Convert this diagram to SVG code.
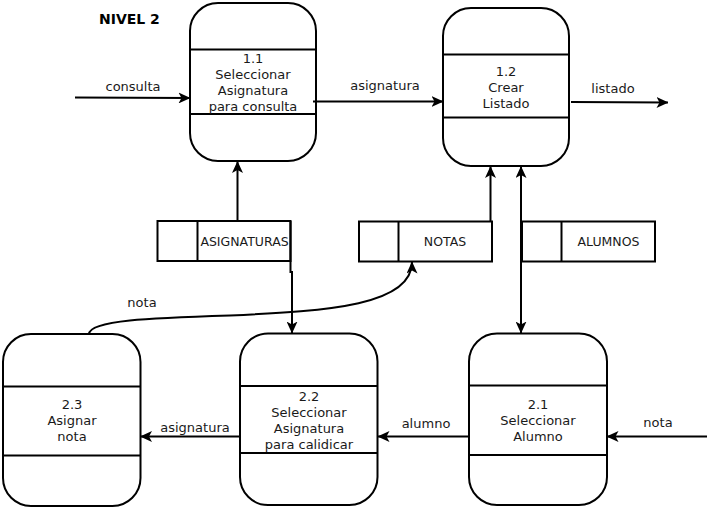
<svg xmlns="http://www.w3.org/2000/svg" width="709" height="510" viewBox="0 0 709 510">
  <style>
    .shape { fill: #ffffff; stroke: #000000; stroke-width: 2; }
    .div { stroke: #000000; stroke-width: 2; fill: none; }
    .flow { stroke: #000000; stroke-width: 2; fill: none; }
    text { font-family: "DejaVu Sans", "Liberation Sans", sans-serif; font-size: 13px; fill: #1a1a1a; }
    .c { text-anchor: middle; }
    .store { font-size: 12.5px; }
    .title { font-weight: bold; font-size: 14px; fill: #000000; }
  </style>
  <defs>
    <marker id="arrow" viewBox="0 0 12 11" refX="11.5" refY="5.5" markerWidth="12" markerHeight="11" markerUnits="userSpaceOnUse" orient="auto-start-reverse">
      <path d="M0,0 L12,5.5 L0,11 L3,5.5 Z" fill="#000000"/>
    </marker>
  </defs>

  <text class="title" x="99" y="23.5">NIVEL 2</text>

  <!-- processes -->
  <g id="p1-1">
    <rect class="shape" x="190" y="3" width="126" height="158" rx="28" ry="28"/>
    <line class="div" x1="190" y1="49.5" x2="316" y2="49.5"/>
    <line class="div" x1="190" y1="114" x2="316" y2="114"/>
    <text class="c" x="253" y="63">1.1</text>
    <text class="c" x="253" y="79">Seleccionar</text>
    <text class="c" x="253" y="95">Asignatura</text>
    <text class="c" x="253" y="111">para consulta</text>
  </g>
  <g id="p1-2">
    <rect class="shape" x="443" y="8" width="126" height="158" rx="28" ry="28"/>
    <line class="div" x1="443" y1="54.5" x2="569" y2="54.5"/>
    <line class="div" x1="443" y1="117.5" x2="569" y2="117.5"/>
    <text class="c" x="506" y="75.5">1.2</text>
    <text class="c" x="506" y="91.5">Crear</text>
    <text class="c" x="506" y="107.5">Listado</text>
  </g>
  <g id="p2-3">
    <rect class="shape" x="3" y="334" width="137.5" height="172" rx="28" ry="28"/>
    <line class="div" x1="3" y1="386.5" x2="140.5" y2="386.5"/>
    <line class="div" x1="3" y1="455.5" x2="140.5" y2="455.5"/>
    <text class="c" x="72" y="409">2.3</text>
    <text class="c" x="72" y="425">Asignar</text>
    <text class="c" x="72" y="441">nota</text>
  </g>
  <g id="p2-2">
    <rect class="shape" x="240" y="333.5" width="137.5" height="171.5" rx="28" ry="28"/>
    <line class="div" x1="240" y1="386" x2="377.5" y2="386"/>
    <line class="div" x1="240" y1="453" x2="377.5" y2="453"/>
    <text class="c" x="309" y="400.5">2.2</text>
    <text class="c" x="309" y="416.5">Seleccionar</text>
    <text class="c" x="309" y="432.5">Asignatura</text>
    <text class="c" x="309" y="448.5">para calidicar</text>
  </g>
  <g id="p2-1">
    <rect class="shape" x="469" y="333.5" width="138" height="171.5" rx="28" ry="28"/>
    <line class="div" x1="469" y1="385.5" x2="607" y2="385.5"/>
    <line class="div" x1="469" y1="455" x2="607" y2="455"/>
    <text class="c" x="538" y="408.5">2.1</text>
    <text class="c" x="538" y="424.5">Seleccionar</text>
    <text class="c" x="538" y="440.5">Alumno</text>
  </g>

  <!-- data stores -->
  <g id="ds-asignaturas">
    <rect class="shape" x="157.5" y="221" width="133" height="40"/>
    <line class="div" x1="197.5" y1="221" x2="197.5" y2="261"/>
    <text class="c store" x="244.5" y="245.5">ASIGNATURAS</text>
  </g>
  <g id="ds-notas">
    <rect class="shape" x="359" y="221.5" width="133" height="40"/>
    <line class="div" x1="398.5" y1="221.5" x2="398.5" y2="261.5"/>
    <text class="c store" x="445" y="246">NOTAS</text>
  </g>
  <g id="ds-alumnos">
    <rect class="shape" x="522" y="221.5" width="133" height="40"/>
    <line class="div" x1="561.5" y1="221.5" x2="561.5" y2="261.5"/>
    <text class="c store" x="608.5" y="246">ALUMNOS</text>
  </g>

  <!-- data flows -->
  <g id="flows">
    <path class="flow" d="M75,97.5 L190,98" marker-end="url(#arrow)"/>
    <path class="flow" d="M313,101.5 L443,101.5" marker-end="url(#arrow)"/>
    <path class="flow" d="M571,102 L668,102.5" marker-end="url(#arrow)"/>
    <path class="flow" d="M237.5,221 L237.5,161.5" marker-end="url(#arrow)"/>
    <path class="flow" d="M290.5,221 L290.5,272 L292,272 L292,333" marker-end="url(#arrow)"/>
    <path class="flow" d="M490.5,221.5 L490.5,166.5" marker-end="url(#arrow)"/>
    <path class="flow" d="M521,166.5 L521,333" marker-start="url(#arrow)" marker-end="url(#arrow)"/>
    <path class="flow" d="M89,334 C90,320 150,318 230,315.5 C330,311 412,305 412,262" marker-end="url(#arrow)"/>
    <path class="flow" d="M240,436.5 L140.5,436.5" marker-end="url(#arrow)"/>
    <path class="flow" d="M469,436.5 L378,436.5" marker-end="url(#arrow)"/>
    <path class="flow" d="M707,436.5 L607,436.5" marker-end="url(#arrow)"/>

    <text class="c" x="133" y="91">consulta</text>
    <text class="c" x="385" y="90">asignatura</text>
    <text class="c" x="613" y="93">listado</text>
    <text class="c" x="142" y="307">nota</text>
    <text class="c" x="195" y="432">asignatura</text>
    <text class="c" x="426" y="428">alumno</text>
    <text class="c" x="658" y="427">nota</text>
  </g>
</svg>
